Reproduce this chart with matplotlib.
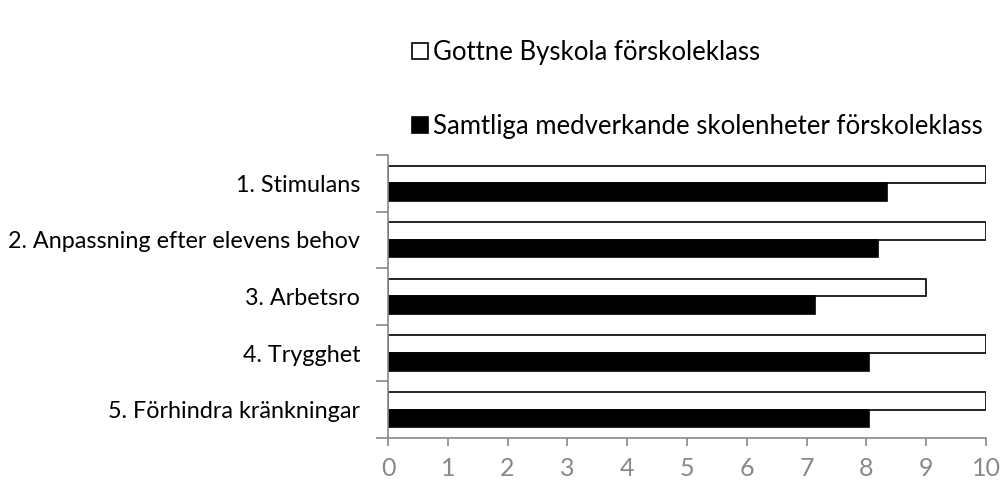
"""
Gottne Byskola förskoleklass vs samtliga skolenheter - horizontal bar chart
"""

import matplotlib
matplotlib.use("Agg")
import matplotlib.pyplot as plt
import numpy as np

categories = [
    "1. Stimulans",
    "2. Anpassning efter elevens behov",
    "3. Arbetsro",
    "4. Trygghet",
    "5. Förhindra kränkningar",
]
gottne = [10, 10, 9, 10, 10]
samtliga = [8.34, 8.2, 7.14, 8.04, 8.04]
series_labels = ["Gottne Byskola förskoleklass",
                 "Samtliga medverkande skolenheter förskoleklass"]
x_ticks = list(range(0, 11))

plt.rcParams['font.family'] = ['Lato', 'DejaVu Sans']

grey = '#898989'

fig = plt.figure(figsize=(10, 4.86), dpi=100)
ax = fig.add_axes([0.388, 0.099, 0.598, 0.582])

y = np.arange(len(categories))
h = 0.31
b1 = ax.barh(y - h / 2, gottne, height=h, color='white', edgecolor='black', linewidth=1.2)
b2 = ax.barh(y + h / 2, samtliga, height=h, color='black', edgecolor='black', linewidth=1.2)

ax.set_xlim(0, 10)
ax.set_ylim(len(categories) - 0.5, -0.5)
ax.set_xticks(x_ticks)
ax.set_xticklabels([str(t) for t in x_ticks], fontsize=18, color=grey)
ax.set_yticks(y)
ax.set_yticklabels(categories, fontsize=16.8)
ax.set_yticks(np.arange(-0.5, len(categories)), minor=True)
ax.tick_params(axis='y', which='major', length=0, pad=20)
ax.tick_params(axis='y', which='minor', length=9, width=1.2, color=grey)
ax.tick_params(axis='x', length=6, width=1.2, color=grey, pad=8)

for side in ['top', 'right']:
    ax.spines[side].set_visible(False)
for side in ['left', 'bottom']:
    ax.spines[side].set_color(grey)
    ax.spines[side].set_linewidth(1.2)

fig.legend([b1, b2], series_labels, loc='upper left', bbox_to_anchor=(0.389, 0.965),
           frameon=False, fontsize=18.5, handlelength=0.6, handleheight=0.6,
           handletextpad=0.2, labelspacing=1.9)

plt.savefig("out.png", dpi=100)
plt.close()
